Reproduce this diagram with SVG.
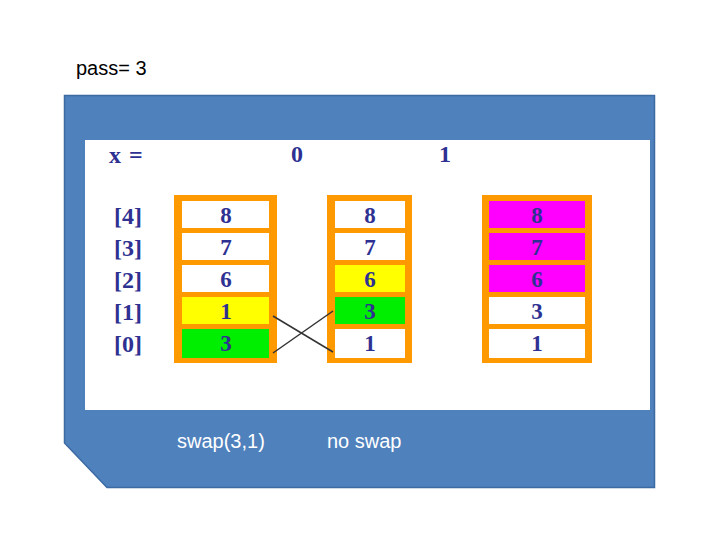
<svg xmlns="http://www.w3.org/2000/svg" width="720" height="540" viewBox="0 0 720 540">
<style>
.lbl{font-family:"Liberation Serif","Times New Roman",serif;font-weight:bold;font-size:24px;fill:#2e3192}
.val{font-family:"Liberation Serif","Times New Roman",serif;font-weight:bold;font-size:23px;fill:#2e3192;text-anchor:middle}
.cap{font-family:"Liberation Sans",Arial,sans-serif;font-size:20px}
.frame{fill:#ff9900}
.w{fill:#ffffff}.y{fill:#ffff00}.g{fill:#00ee00}.m{fill:#ff00ff}
</style>
<rect width="720" height="540" fill="#ffffff"/>
<text class="cap" x="76" y="75" fill="#000000" font-size="21">pass= 3</text>
<g id="panel">
<path d="M64.5 95.5 H654.5 V487.5 H107 L64.5 443 Z" fill="#4f81bd" stroke="#3c6aa3" stroke-width="1.5"/>
<rect x="85" y="140" width="565" height="270" fill="#ffffff"/>
</g>
<g id="header">
<text class="lbl" x="109" y="163" font-size="28" letter-spacing="1">x =</text>
<text class="lbl" x="291" y="162">0</text>
<text class="lbl" x="439" y="162">1</text>
</g>
<g id="indices">
<text class="lbl" x="114" y="224">[4]</text>
<text class="lbl" x="114" y="256">[3]</text>
<text class="lbl" x="114" y="288">[2]</text>
<text class="lbl" x="114" y="320">[1]</text>
<text class="lbl" x="114" y="352">[0]</text>
</g>
<g id="col1">
<rect class="frame" x="174" y="195" width="103" height="168"/>
<rect class="w" x="182" y="201" width="87" height="27"/>
<rect class="w" x="182" y="233" width="87" height="27"/>
<rect class="w" x="182" y="265" width="87" height="27"/>
<rect class="y" x="182" y="297" width="87" height="27"/>
<rect class="g" x="182" y="329" width="87" height="29"/>
<text class="val" x="226" y="223">8</text>
<text class="val" x="226" y="255">7</text>
<text class="val" x="226" y="287">6</text>
<text class="val" x="226" y="319">1</text>
<text class="val" x="226" y="351">3</text>
</g>
<g id="col2">
<rect class="frame" x="327" y="195" width="85" height="168"/>
<rect class="w" x="335" y="201" width="70" height="27"/>
<rect class="w" x="335" y="233" width="70" height="27"/>
<rect class="y" x="335" y="265" width="70" height="27"/>
<rect class="g" x="335" y="297" width="70" height="27"/>
<rect class="w" x="335" y="329" width="70" height="29"/>
<text class="val" x="370" y="223">8</text>
<text class="val" x="370" y="255">7</text>
<text class="val" x="370" y="287">6</text>
<text class="val" x="370" y="319">3</text>
<text class="val" x="370" y="351">1</text>
</g>
<g id="col3">
<rect class="frame" x="482" y="195" width="110" height="168"/>
<rect class="m" x="489" y="201" width="96" height="27"/>
<rect class="m" x="489" y="233" width="96" height="27"/>
<rect class="m" x="489" y="265" width="96" height="27"/>
<rect class="w" x="489" y="297" width="96" height="27"/>
<rect class="w" x="489" y="329" width="96" height="29"/>
<text class="val" x="537" y="223">8</text>
<text class="val" x="537" y="255">7</text>
<text class="val" x="537" y="287">6</text>
<text class="val" x="537" y="319">3</text>
<text class="val" x="537" y="351">1</text>
</g>
<g id="connectors" stroke="#333333" stroke-width="1.5" fill="none">
<line x1="273" y1="316" x2="333" y2="352"/>
<line x1="273" y1="353" x2="333" y2="311"/>
</g>
<g id="captions">
<text class="cap" x="177" y="448" fill="#ffffff">swap(3,1)</text>
<text class="cap" x="327" y="448" fill="#ffffff">no swap</text>
</g>
</svg>
